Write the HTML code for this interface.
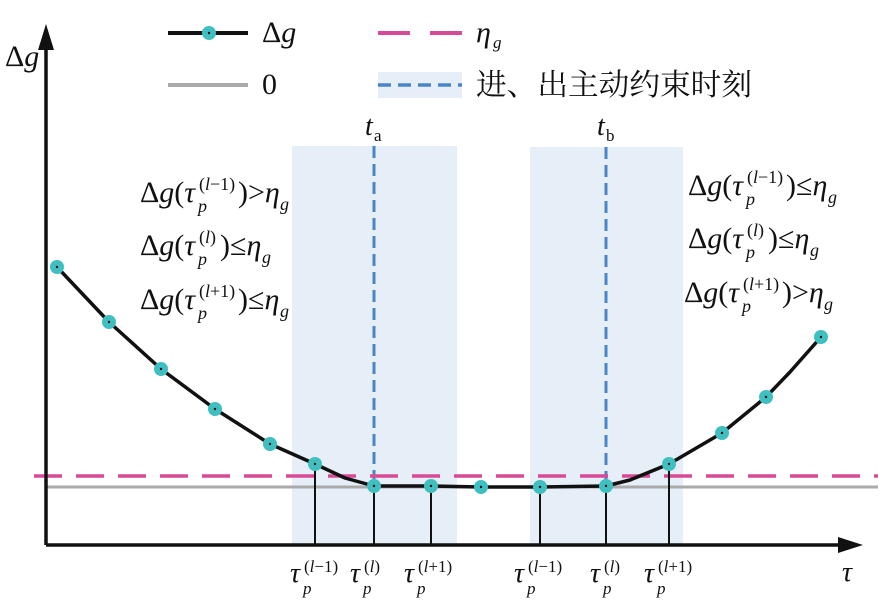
<!DOCTYPE html>
<html><head><meta charset="utf-8"><style>
html,body{margin:0;padding:0;background:#fff}
svg{display:block}
text{font-family:"Liberation Serif","Times New Roman","DejaVu Serif",serif;fill:#111}
text.cjk{font-family:"Liberation Serif","Noto Serif CJK SC","Noto Sans CJK SC",serif}
.i{font-style:italic}
</style></head><body>
<svg width="893" height="607" viewBox="0 0 893 607" xmlns="http://www.w3.org/2000/svg" font-family="Liberation Serif, serif">
<rect x="292" y="146" width="165" height="399" fill="#e6eff8"/>
<rect x="530" y="147" width="153" height="398" fill="#e6eff8"/>
<line x1="374" y1="146" x2="374" y2="487" stroke="#4a86c5" stroke-width="3" stroke-dasharray="12,6"/>
<line x1="606" y1="147" x2="606" y2="487" stroke="#4a86c5" stroke-width="3" stroke-dasharray="12,6"/>
<line x1="46" y1="487" x2="878" y2="487" stroke="#aaa" stroke-width="3"/>
<line x1="34" y1="476" x2="878" y2="476" stroke="#d94a96" stroke-width="3.5" stroke-dasharray="28,14"/>
<g stroke="#111" stroke-width="2">
<line x1="315" y1="464" x2="315" y2="545"/><line x1="374" y1="486" x2="374" y2="545"/><line x1="431" y1="486" x2="431" y2="545"/>
<line x1="540" y1="487" x2="540" y2="545"/><line x1="606" y1="486" x2="606" y2="545"/><line x1="669" y1="464" x2="669" y2="545"/>
</g>
<polyline fill="none" stroke="#111" stroke-width="3.5" stroke-linejoin="round" points="57,267 109,322 161,369 215,409 270,444 315,464 345,478 374,486 431,486 481,487 540,487 606,486 630,480 669,464 722,433 766,397 790,372 821,337"/>
<g fill="#3fbfbf">
<circle cx="57" cy="267" r="7"/><circle cx="109" cy="322" r="7"/><circle cx="161" cy="369" r="7"/><circle cx="215" cy="409" r="7"/><circle cx="270" cy="444" r="7"/><circle cx="315" cy="464" r="7"/><circle cx="374" cy="486" r="7"/><circle cx="431" cy="486" r="7"/><circle cx="481" cy="487" r="7"/><circle cx="540" cy="487" r="7"/><circle cx="606" cy="486" r="7"/><circle cx="669" cy="464" r="7"/><circle cx="722" cy="433" r="7"/><circle cx="766" cy="397" r="7"/><circle cx="821" cy="337" r="7"/>
</g>
<g fill="#111">
<circle cx="57" cy="267" r="1.2"/><circle cx="109" cy="322" r="1.2"/><circle cx="161" cy="369" r="1.2"/><circle cx="215" cy="409" r="1.2"/><circle cx="270" cy="444" r="1.2"/><circle cx="315" cy="464" r="1.2"/><circle cx="374" cy="486" r="1.2"/><circle cx="431" cy="486" r="1.2"/><circle cx="481" cy="487" r="1.2"/><circle cx="540" cy="487" r="1.2"/><circle cx="606" cy="486" r="1.2"/><circle cx="669" cy="464" r="1.2"/><circle cx="722" cy="433" r="1.2"/><circle cx="766" cy="397" r="1.2"/><circle cx="821" cy="337" r="1.2"/>
</g>
<line x1="46" y1="545" x2="840" y2="545" stroke="#111" stroke-width="3.5"/>
<polygon points="863,545 838,537 838,553" fill="#111"/>
<line x1="46" y1="545" x2="46" y2="48" stroke="#111" stroke-width="3.5"/>
<polygon points="46,24 38,50 54,50" fill="#111"/>
<text x="5" y="66" font-size="30">Δ<tspan class="i">g</tspan></text>
<text x="842" y="581" font-size="28" class="i">τ</text>
<line x1="168" y1="33" x2="248" y2="33" stroke="#111" stroke-width="4"/>
<circle cx="209" cy="33" r="7" fill="#3fbfbf"/><circle cx="209" cy="33" r="1.2" fill="#111"/>
<text x="262" y="42" font-size="30">Δ<tspan class="i">g</tspan></text>
<line x1="168" y1="85" x2="248" y2="85" stroke="#aaa" stroke-width="4"/>
<text x="262" y="94" font-size="30">0</text>
<line x1="378" y1="33" x2="462" y2="33" stroke="#d94a96" stroke-width="4" stroke-dasharray="32,20"/>
<text x="476" y="42" font-size="30" class="i">η</text><text x="493" y="48" font-size="17" class="i">g</text>
<rect x="378" y="72" width="84" height="26" fill="#e6eff8"/>
<line x1="378" y1="85" x2="462" y2="85" stroke="#4a86c5" stroke-width="3.5" stroke-dasharray="13,7"/>
<text class="cjk" x="476" y="95" font-size="30" textLength="276" lengthAdjust="spacingAndGlyphs">进、出主动约束时刻</text>
<text x="365" y="135" font-size="28" class="i">t</text><text x="374" y="141" font-size="17">a</text>
<text x="597" y="135" font-size="28" class="i">t</text><text x="606" y="141" font-size="17">b</text>
<g font-size="30">
<text x="140" y="202">Δ<tspan class="i">g</tspan>(<tspan class="i">τ</tspan></text>
<text x="199" y="190" font-size="18">(<tspan class="i">l</tspan>−1)</text><text x="198" y="212" font-size="18" class="i">p</text>
<text x="238" y="202">)&gt;<tspan class="i">η</tspan></text><text x="280" y="210" font-size="18" class="i">g</text>

<text x="140" y="255">Δ<tspan class="i">g</tspan>(<tspan class="i">τ</tspan></text>
<text x="199" y="243" font-size="18">(<tspan class="i">l</tspan>)</text><text x="198" y="265" font-size="18" class="i">p</text>
<text x="220" y="255">)≤<tspan class="i">η</tspan></text><text x="262" y="263" font-size="18" class="i">g</text>

<text x="140" y="309">Δ<tspan class="i">g</tspan>(<tspan class="i">τ</tspan></text>
<text x="199" y="297" font-size="18">(<tspan class="i">l</tspan>+1)</text><text x="198" y="319" font-size="18" class="i">p</text>
<text x="238" y="309">)≤<tspan class="i">η</tspan></text><text x="280" y="317" font-size="18" class="i">g</text>
</g>
<g font-size="30">
<text x="688" y="195">Δ<tspan class="i">g</tspan>(<tspan class="i">τ</tspan></text>
<text x="747" y="183" font-size="18">(<tspan class="i">l</tspan>−1)</text><text x="746" y="205" font-size="18" class="i">p</text>
<text x="786" y="195">)≤<tspan class="i">η</tspan></text><text x="828" y="203" font-size="18" class="i">g</text>

<text x="688" y="248">Δ<tspan class="i">g</tspan>(<tspan class="i">τ</tspan></text>
<text x="747" y="236" font-size="18">(<tspan class="i">l</tspan>)</text><text x="746" y="258" font-size="18" class="i">p</text>
<text x="768" y="248">)≤<tspan class="i">η</tspan></text><text x="810" y="256" font-size="18" class="i">g</text>

<text x="684" y="302">Δ<tspan class="i">g</tspan>(<tspan class="i">τ</tspan></text>
<text x="743" y="290" font-size="18">(<tspan class="i">l</tspan>+1)</text><text x="742" y="312" font-size="18" class="i">p</text>
<text x="782" y="302">)&gt;<tspan class="i">η</tspan></text><text x="824" y="310" font-size="18" class="i">g</text>
</g>
<g font-size="28">
<text x="290" y="582" class="i">τ</text><text x="304" y="572" font-size="17">(<tspan class="i">l</tspan>−1)</text><text x="303" y="594" font-size="17" class="i">p</text>
<text x="350" y="582" class="i">τ</text><text x="364" y="572" font-size="17">(<tspan class="i">l</tspan>)</text><text x="363" y="594" font-size="17" class="i">p</text>
<text x="404" y="582" class="i">τ</text><text x="418" y="572" font-size="17">(<tspan class="i">l</tspan>+1)</text><text x="417" y="594" font-size="17" class="i">p</text>
<text x="514" y="582" class="i">τ</text><text x="528" y="572" font-size="17">(<tspan class="i">l</tspan>−1)</text><text x="527" y="594" font-size="17" class="i">p</text>
<text x="590" y="582" class="i">τ</text><text x="604" y="572" font-size="17">(<tspan class="i">l</tspan>)</text><text x="603" y="594" font-size="17" class="i">p</text>
<text x="644" y="582" class="i">τ</text><text x="658" y="572" font-size="17">(<tspan class="i">l</tspan>+1)</text><text x="657" y="594" font-size="17" class="i">p</text>
</g>
</svg>
</body></html>
